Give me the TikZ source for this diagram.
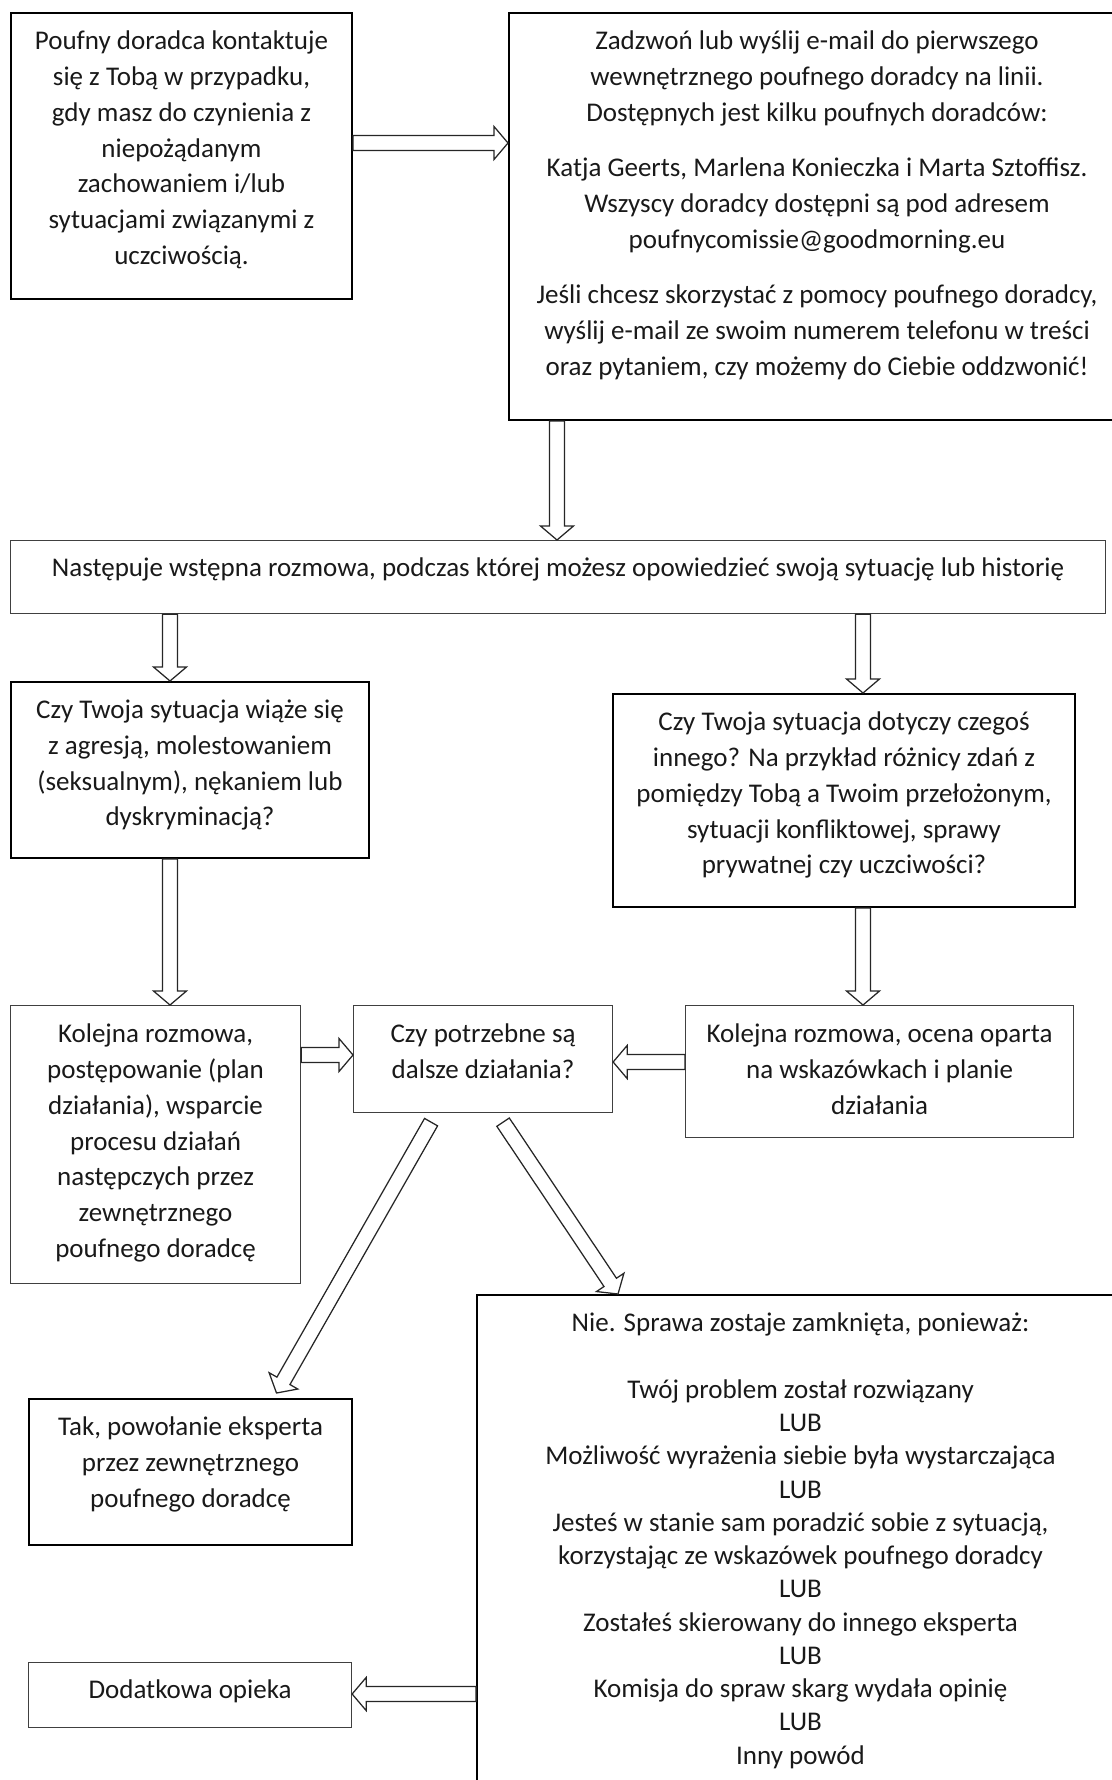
\documentclass[tikz,border=0pt]{standalone}
\usepackage{fontspec}
\setmainfont{Carlito}
\usetikzlibrary{calc}

\begin{document}
\begin{tikzpicture}[x=0.4pt,y=-0.4pt,
  ramka/.style={draw=black, line width=0.8pt, inner sep=0pt, anchor=north west},
  cienka/.style={draw=black!75, line width=0.45pt, inner sep=0pt, anchor=north west},
  tekst/.style={align=center, inner sep=0pt, anchor=north, text=black!90, font=\fontsize{10.8}{14.3}\selectfont},
  blok/.style={draw=black!85, line width=0.5pt, fill=white, line join=miter}]
\def\TRZON{3pt};\def\SZER{6.6pt};\def\GROT{5.6pt};
\def\blok#1#2{\draw[blok] let \p1=(#1), \p2=(#2), \p3=($(\p2)!\GROT!(\p1)$) in
  ($(\p1)!\TRZON!-90:(\p2)$) -- ($(\p3)!\TRZON!-90:(\p2)$) -- ($(\p3)!\SZER!-90:(\p2)$) -- (\p2)
  -- ($(\p3)!\SZER!90:(\p2)$) -- ($(\p3)!\TRZON!90:(\p2)$) -- ($(\p1)!\TRZON!90:(\p2)$) -- cycle;}
\useasboundingbox (0,0) rectangle (1112,1780);
\clip (0,0) rectangle (1112,1780);

\node[ramka, minimum width=136.4pt, minimum height=114.4pt] (kontakt) at (10,12) {};
\node[tekst] (kontakt-t) at ([yshift=-7.4pt]kontakt.north) {Poufny doradca kontaktuje\\ się z Tobą w przypadku,\\ gdy masz do czynienia z\\ niepożądanym\\ zachowaniem i/lub\\ sytuacjami związanymi z\\ uczciwością.};

\node[ramka, minimum width=246.4pt, minimum height=162.8pt] (zadzwon) at (508,12) {};
\node[tekst] (zadzwon-t) at ([yshift=-7.4pt]zadzwon.north) {Zadzwoń lub wyślij e-mail do pierwszego\\ wewnętrznego poufnego doradcy na linii.\\ Dostępnych jest kilku poufnych doradców:\\[7.9pt]
Katja Geerts, Marlena Konieczka i Marta Sztoffisz.\\ Wszyscy doradcy dostępni są pod adresem\\ poufnycomissie@goodmorning.eu\\[7.9pt]
Jeśli chcesz skorzystać z pomocy poufnego doradcy,\\ wyślij e-mail ze swoim numerem telefonu w treści\\ oraz pytaniem, czy możemy do Ciebie oddzwonić!};

\node[cienka, minimum width=438pt, minimum height=29.2pt] (rozmowa) at (10,540) {};
\node[tekst] (rozmowa-t) at ([yshift=-6.7pt]rozmowa.north) {Następuje wstępna rozmowa, podczas której możesz opowiedzieć swoją sytuację lub historię};

\node[ramka, minimum width=143.2pt, minimum height=70.4pt] (agresja) at (10,681) {};
\node[tekst] (agresja-t) at ([yshift=-7.4pt]agresja.north) {Czy Twoja sytuacja wiąże się\\ z agresją, molestowaniem\\ (seksualnym), nękaniem lub\\ dyskryminacją?};

\node[ramka, minimum width=184.8pt, minimum height=85.2pt] (inne) at (612,693) {};
\node[tekst] (inne-t) at ([yshift=-7.4pt]inne.north) {Czy Twoja sytuacja dotyczy czegoś\\ innego? Na przykład różnicy zdań z\\ pomiędzy Tobą a Twoim przełożonym,\\ sytuacji konfliktowej, sprawy\\ prywatnej czy uczciwości?};

\node[cienka, minimum width=116pt, minimum height=111.2pt] (kolejna) at (10,1005) {};
\node[tekst] (kolejna-t) at ([yshift=-7.4pt]kolejna.north) {Kolejna rozmowa,\\ postępowanie (plan\\ działania), wsparcie\\ procesu działań\\ następczych przez\\ zewnętrznego\\ poufnego doradcę};

\node[cienka, minimum width=103.6pt, minimum height=42.8pt] (dalsze) at (353,1005) {};
\node[tekst] (dalsze-t) at ([yshift=-7.4pt]dalsze.north) {Czy potrzebne są\\ dalsze działania?};

\node[cienka, minimum width=155.2pt, minimum height=52.8pt] (ocena) at (685,1005) {};
\node[tekst] (ocena-t) at ([yshift=-7.4pt]ocena.north) {Kolejna rozmowa, ocena oparta\\ na wskazówkach i planie\\ działania};

\node[ramka, minimum width=129.2pt, minimum height=58.4pt] (tak) at (28,1398) {};
\node[tekst] (tak-t) at ([yshift=-7.4pt]tak.north) {Tak, powołanie eksperta\\ przez zewnętrznego\\ poufnego doradcę};

\node[ramka, minimum width=258.8pt, minimum height=208pt] (zamknieta) at (476,1294) {};
\node[tekst, font=\fontsize{10.8}{13.3}\selectfont] (zamknieta-t) at ([yshift=-7.4pt]zamknieta.north) {Nie. Sprawa zostaje zamknięta, ponieważ:\\[13.3pt]
Twój problem został rozwiązany\\ LUB\\ Możliwość wyrażenia siebie była wystarczająca\\ LUB\\
Jesteś w stanie sam poradzić sobie z sytuacją,\\ korzystając ze wskazówek poufnego doradcy\\ LUB\\
Zostałeś skierowany do innego eksperta\\ LUB\\ Komisja do spraw skarg wydała opinię\\ LUB\\ Inny powód};

\node[cienka, minimum width=129.2pt, minimum height=26pt] (opieka) at (28,1662) {};
\node[tekst] (opieka-t) at ([yshift=-6.7pt]opieka.north) {Dodatkowa opieka};

% strzalki
\blok{kontakt.east |- 0,143}{zadzwon.west |- 0,143}
\blok{557,0 |- zadzwon.south}{557,0 |- rozmowa.north}
\blok{170,0 |- rozmowa.south}{170,0 |- agresja.north}
\blok{863,0 |- rozmowa.south}{863,0 |- inne.north}
\blok{170,0 |- agresja.south}{170,0 |- kolejna.north}
\blok{863,0 |- inne.south}{863,0 |- ocena.north}
\blok{kolejna.east |- 0,1055}{dalsze.west |- 0,1055}
\blok{ocena.west |- 0,1062}{dalsze.east |- 0,1062}
\blok{[shift={(-52,9)}]dalsze.south}{[shift={(86,-5)}]tak.north}
\blok{[shift={(20,9)}]dalsze.south}{618,0 |- zamknieta.north}
\blok{zamknieta.west |- 0,1694}{opieka.east |- 0,1694}
\end{tikzpicture}
\end{document}
